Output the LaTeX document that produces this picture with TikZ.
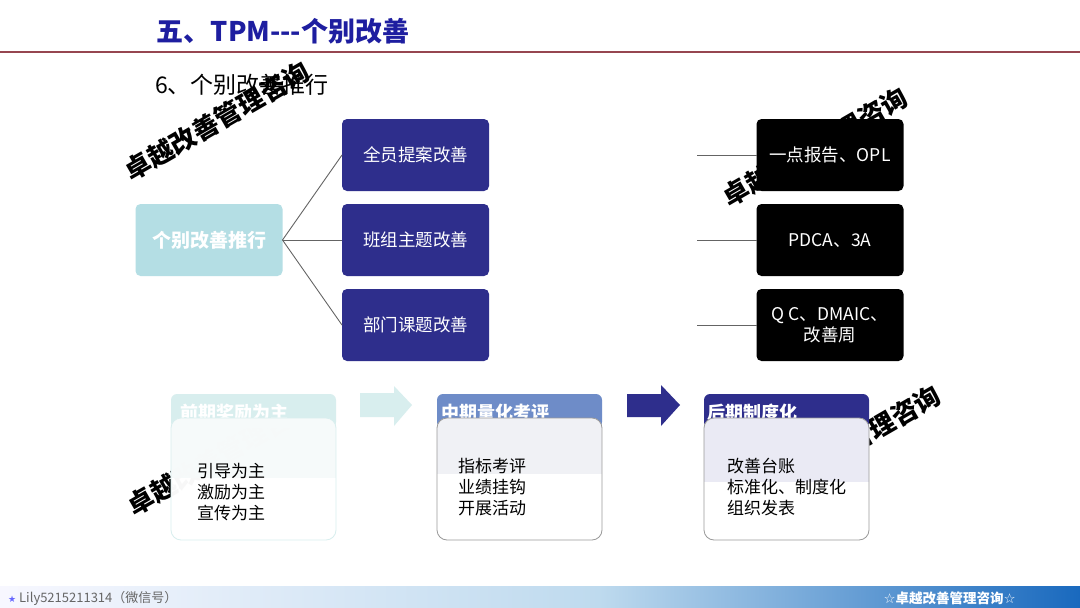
\documentclass[tikz,border=0pt]{standalone}
\usepackage{fontspec}
\setmainfont{Noto Sans CJK SC}
\newfontfamily\dejavu{DejaVu Sans}
\definecolor{navy}{RGB}{46,46,140}
\definecolor{titleblue}{RGB}{30,30,160}
\definecolor{teal1}{RGB}{180,222,228}
\definecolor{teal2}{RGB}{216,238,238}
\definecolor{midblue}{RGB}{110,140,200}
\definecolor{rule}{RGB}{150,70,80}
\definecolor{conn}{RGB}{100,100,100}
\definecolor{upgray}{RGB}{240,241,245}
\definecolor{uplav}{RGB}{234,234,244}
\definecolor{upteal}{RGB}{246,250,250}
\begin{document}
\begin{tikzpicture}[x=1pt,y=-1pt,
  midbox/.style={rectangle, rounded corners=5pt, fill=navy, minimum width=147pt, minimum height=72pt, inner sep=0pt, outer sep=0pt, text=white, font=\fontsize{17.5}{21}\selectfont, align=center},
  blackbox/.style={midbox, fill=black},
  leftbox/.style={midbox, fill=teal1, font=\bfseries\fontsize{19}{21}\selectfont},
  connector/.style={draw=conn, line width=0.9pt},
  tab/.style={rectangle, rounded corners=6pt, minimum width=165pt, minimum height=34pt, inner sep=0pt, outer sep=0pt},
  front/.style={rectangle, rounded corners=10pt, minimum width=165pt, minimum height=122pt, inner sep=0pt, outer sep=0pt},
  tabtext/.style={anchor=west, inner sep=0pt, text=white, font=\bfseries\fontsize{18}{18}\selectfont},
  bodytext/.style={anchor=west, inner sep=0pt, align=left, font=\fontsize{17}{21}\selectfont},
  wm/.style={inner sep=0pt, rotate=30, font=\bfseries\fontsize{26}{26}\selectfont}
]
\useasboundingbox (0,0) rectangle (1080,608);
\fill[white] (0,0) rectangle (1080,608);

% title
\node[text=titleblue, font=\bfseries\fontsize{27}{27}\selectfont, inner sep=0pt] (title) at (283,31) {五、TPM-{}-{}-个别改善};
\draw[rule, line width=1.6pt] (0,52) -- (1080,52);
\node[font=\fontsize{23}{23}\selectfont, inner sep=0pt, anchor=west] (sub) at (155,85) {6、个别改善推行};
\node[wm] (wm1) at (217,121) {卓越改善管理咨询};

% tree
\node[leftbox] (left) at (209,240) {个别改善推行};
\node[midbox] (m1) at (415.5,155) {全员提案改善};
\node[midbox] (m2) at (415.5,240) {班组主题改善};
\node[midbox] (m3) at (415.5,325) {部门课题改善};
\draw[connector] (left.east) -- (m1.west);
\draw[connector] (left.east) -- (m2.west);
\draw[connector] (left.east) -- (m3.west);

\node[wm] (wm2) at (815,147) {卓越改善管理咨询};
\node[blackbox] (b1) at (830,155) {一点报告、OPL};
\node[blackbox] (b2) at (830,240) {PDCA、3A};
\node[blackbox] (b3) at (830,325) {Q C、DMAIC、\\改善周};
\coordinate (c1) at (697,155);
\coordinate (c2) at (697,240);
\coordinate (c3) at (697,325);
\draw[connector] (c1) -- (b1.west);
\draw[connector] (c2) -- (b2.west);
\draw[connector] (c3) -- (b3.west);

% bottom stages
\node[wm] (wm3) at (220,456) {卓越改善管理咨询};
\node[wm] (wm4) at (848,445) {卓越改善管理咨询};

% stage 1
\node[tab, fill=teal2] (h1) at (253.5,411) {};
\node[tabtext] (h1t) at (180,413) {前期奖励为主};
\node[front, fill=white, fill opacity=0.97] (f1) at (253.5,479) {};
\begin{scope}
  \clip[rounded corners=10pt] (f1.north west) rectangle (f1.south east);
  \fill[upteal, fill opacity=0.97] (f1.north west) rectangle (336,478);
\end{scope}
\draw[teal2, line width=0.8pt, rounded corners=10pt] (f1.north west) rectangle (f1.south east);
\node[bodytext] (f1t) at (197,492) {引导为主\\激励为主\\宣传为主};

\fill[teal2] (360,393) -- (394,393) -- (394,386) -- (412,405) -- (394,426) -- (394,417) -- (360,417) -- cycle;

% stage 2
\node[tab, fill=midblue] (h2) at (519.5,411) {};
\node[tabtext] (h2t) at (441,413) {中期量化考评};
\node[front, fill=white] (f2) at (519.5,479) {};
\begin{scope}
  \clip[rounded corners=10pt] (f2.north west) rectangle (f2.south east);
  \fill[upgray] (f2.north west) rectangle (603,474);
\end{scope}
\draw[gray!80, line width=0.8pt, rounded corners=10pt] (f2.north west) rectangle (f2.south east);
\node[bodytext] (f2t) at (458,487) {指标考评\\业绩挂钩\\开展活动};

\fill[navy] (627,394) -- (661,394) -- (661,385) -- (680,405) -- (661,426) -- (661,417) -- (627,417) -- cycle;

% stage 3
\node[tab, fill=navy] (h3) at (786.5,411) {};
\node[tabtext] (h3t) at (707,413) {后期制度化};
\node[front, fill=white] (f3) at (786.5,479) {};
\begin{scope}
  \clip[rounded corners=10pt] (f3.north west) rectangle (f3.south east);
  \fill[uplav] (f3.north west) rectangle (870,482);
\end{scope}
\draw[gray!80, line width=0.8pt, rounded corners=10pt] (f3.north west) rectangle (f3.south east);
\node[bodytext] (f3t) at (727,487) {改善台账\\标准化、制度化\\组织发表};

% footer
\shade[left color=blue!3!white, right color={rgb,255:red,190;green,218;blue,238}] (0,586) rectangle (600,608);
\shade[left color={rgb,255:red,190;green,218;blue,238}, right color={rgb,255:red,25;green,105;blue,190}] (599.5,586) rectangle (1080,608);
\node[anchor=west, inner sep=0pt, text=gray!80!black, font=\fontsize{13}{13}\selectfont] (foot1) at (8,598) {{\dejavu\fontsize{9}{9}\selectfont\textcolor{blue!60}{★}} Lily5215211314（微信号）};
\node[anchor=east, inner sep=0pt, text=white, font=\bfseries\fontsize{13.5}{13.5}\selectfont] (foot2) at (1016,598) {{\dejavu☆}卓越改善管理咨询{\dejavu☆}};
\end{tikzpicture}
\end{document}
